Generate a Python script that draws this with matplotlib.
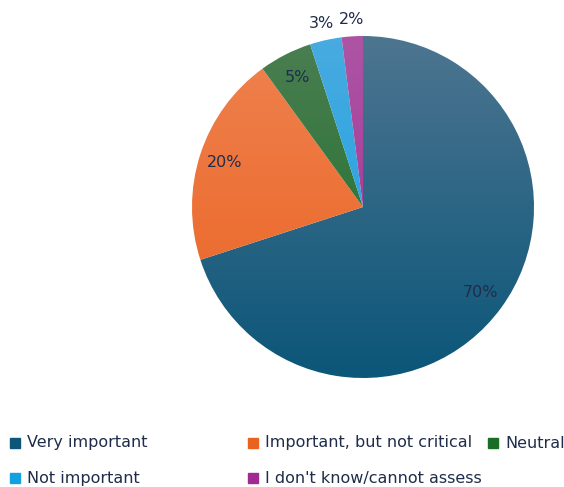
import numpy as np
import matplotlib.pyplot as plt
from matplotlib.colors import to_rgb
from matplotlib.patches import Rectangle

labels = ["Very important", "Important, but not critical", "Neutral",
          "Not important", "I don't know/cannot assess"]
values = [70, 20, 5, 3, 2]
colors = ["#0b5679", "#ea6220", "#186e24", "#12a0e0", "#a02a92"]
tops = ["#4d7590", "#ef8250", "#4b7e52", "#48abe0", "#ad55a4"]

fig = plt.figure(figsize=(5.64, 4.87), dpi=100)
ax = fig.add_axes([192 / 564, 109 / 487, 342 / 564, 342 / 487])

wedges, texts, autotexts = ax.pie(values, colors=colors, startangle=90,
                                  counterclock=False, radius=1,
                                  autopct="%d%%", pctdistance=0.85,
                                  textprops=dict(color="#1f2d4a", fontsize=11.5))

# vertical gradient on each slice, lighter at the top
for w, c0, c1 in zip(wedges, tops, colors):
    a = np.array(to_rgb(c0))
    b = np.array(to_rgb(c1))
    t = np.linspace(0, 1, 256)[:, None]
    img = (a * (1 - t) + b * t)[:, None, :]
    im = ax.imshow(img, extent=(-1, 1, -1, 1), origin="upper", aspect="auto", zorder=1)
    im.set_clip_path(w)
    w.set_alpha(0)

# move small labels outside
for i, at in enumerate(autotexts):
    at.set_zorder(5)
    if values[i] < 5:
        th = np.deg2rad((wedges[i].theta1 + wedges[i].theta2) / 2)
        at.set_position((1.11 * np.cos(th), 1.1 * np.sin(th)))

ax.set_xlim(-1, 1)
ax.set_ylim(-1, 1)
ax.set_aspect("equal")
ax.axis("off")

# legend
pos = [(15, 443), (253, 443), (493, 443), (15, 478), (253, 478)]
for (x, y), lab, c in zip(pos, labels, colors):
    fig.patches.append(Rectangle(((x - 5) / 564, 1 - (y + 5) / 487), 10 / 564, 10 / 487,
                                 transform=fig.transFigure, color=c, figure=fig))
    fig.text((x + 12) / 564, 1 - y / 487, lab, va="center", ha="left",
             fontsize=11.5, color="#1f2d4a")

fig.savefig("out.png", dpi=100)
